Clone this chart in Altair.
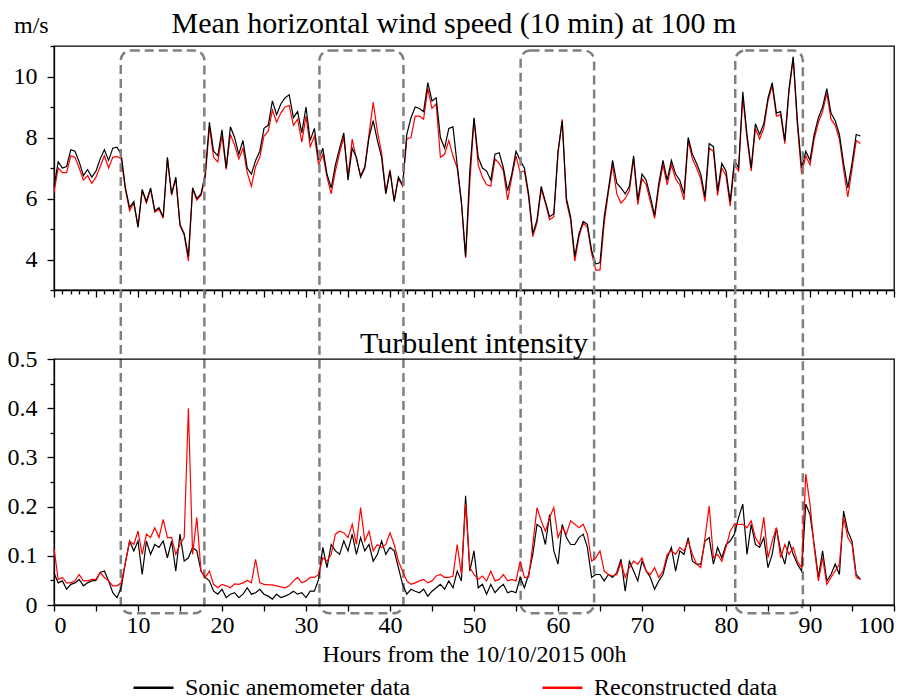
import altair as alt
import pandas as pd

SONIC = "Sonic anemometer data"
RECON = "Reconstructed data"
FONT = "Liberation Serif"

TITLE_TOP = "Mean horizontal wind speed (10 min) at 100 m"
TITLE_BOTTOM = "Turbulent intensity"
UNIT_TOP = "m/s"
X_TITLE = "Hours from the 10/10/2015 00h"

# time grid: every half hour from 0 h to 96 h
hours = [i / 2 for i in range(193)]

# Mean horizontal wind speed (m/s)
speed_sonic = [
    6.4, 7.2, 7.0, 7.05, 7.6, 7.55, 7.2, 6.75, 6.95, 6.7,
    6.9, 7.3, 7.6, 7.25, 7.65, 7.68, 7.45, 6.35, 5.7, 5.9,
    5.05, 6.3, 5.9, 6.35, 5.6, 5.7, 5.4, 7.35, 6.15, 6.7,
    5.15, 4.85, 4.1, 6.35, 6.0, 6.15, 6.8, 8.5, 7.55, 7.4,
    8.25, 7.0, 8.35, 8.0, 7.45, 7.9, 7.0, 6.8, 7.25, 7.55,
    8.3, 8.4, 9.2, 8.75, 9.1, 9.3, 9.4, 8.65, 8.85, 8.15,
    9.0, 7.9, 8.3, 7.25, 7.65, 6.8, 6.35, 7.1, 7.65, 8.15,
    6.6, 7.65, 7.35, 6.7, 7.0, 8.0, 8.55, 7.9, 7.35, 6.15,
    6.9, 5.9, 6.7, 6.45, 8.1, 8.65, 9.0, 8.95, 8.85, 9.8,
    9.2, 9.3, 8.0, 7.65, 8.3, 8.35, 7.1, 5.9, 4.1, 6.9,
    8.65, 7.35, 7.0, 6.9, 6.6, 7.45, 7.5, 7.0, 6.25, 6.8,
    7.55, 7.25, 7.0, 6.15, 4.85, 5.3, 6.4, 5.9, 5.4, 5.5,
    7.55, 8.55, 6.0, 5.4, 4.1, 4.85, 5.25, 5.15, 4.3, 3.85,
    3.9, 5.4, 6.3, 7.25, 6.5, 6.35, 6.15, 6.4, 7.4, 5.95,
    6.8, 6.6, 6.05, 5.45, 6.5, 7.25, 6.6, 7.25, 6.8, 6.6,
    6.15, 8.0, 7.45, 7.15, 6.8, 6.05, 7.8, 7.7, 6.25, 7.15,
    6.9, 5.9, 7.25, 7.0, 9.5, 8.1, 7.0, 8.45, 8.1, 8.45,
    9.3, 9.8, 8.8, 8.85, 7.9, 9.6, 10.65, 8.55, 7.0, 7.55,
    7.25, 8.1, 8.65, 9.0, 9.6, 8.8, 8.55, 8.1, 7.15, 6.35,
    7.15, 8.1, 8.05,
]
speed_recon = [
    6.2, 7.0, 6.85, 6.85, 7.4, 7.35, 7.0, 6.6, 6.75, 6.5,
    6.7, 7.05, 7.4, 7.0, 7.35, 7.38, 7.3, 6.3, 5.6, 5.85,
    5.1, 6.25, 5.85, 6.3, 5.55, 5.65, 5.35, 7.3, 6.1, 6.65,
    5.1, 4.8, 3.95, 6.3, 5.95, 6.1, 6.65, 8.35, 7.35, 7.2,
    8.05, 6.95, 8.1, 7.75, 7.3, 7.65, 6.85, 6.4, 7.05, 7.35,
    8.05, 8.2, 8.9, 8.5, 8.8, 9.0, 9.05, 8.4, 8.6, 7.85,
    8.7, 7.7, 8.05, 7.1, 7.45, 6.7, 6.15, 6.9, 7.5, 8.0,
    6.7, 7.95, 7.3, 6.75, 7.05, 8.1, 9.15, 8.2, 7.5, 6.2,
    6.95, 5.95, 6.65, 6.4, 7.95, 8.0, 8.7, 8.7, 8.6, 9.6,
    8.95, 9.1, 7.35, 7.45, 7.9, 7.4, 7.0, 5.85, 4.05, 6.5,
    8.6, 7.1, 6.7, 6.45, 6.4, 7.3, 7.15, 6.9, 5.95, 6.7,
    7.4, 6.85, 6.9, 6.05, 4.75, 5.2, 6.3, 5.85, 5.3, 5.4,
    7.45, 8.6, 5.9, 5.3, 3.95, 4.75, 5.2, 5.05, 4.2, 3.65,
    3.65, 5.2, 6.2, 7.1, 6.15, 5.85, 6.0, 6.25, 7.3, 5.8,
    6.65, 6.45, 5.9, 5.35, 6.35, 7.1, 6.45, 7.1, 6.65, 6.45,
    5.95, 7.9, 7.3, 7.0, 6.65, 5.9, 7.65, 7.55, 6.1, 7.0,
    6.75, 5.75, 7.1, 6.9, 9.35, 7.95, 6.9, 8.3, 7.95, 8.3,
    9.2, 9.7, 8.7, 8.75, 7.8, 9.5, 10.6, 8.4, 6.8, 7.4,
    7.1, 7.95, 8.5, 8.85, 9.45, 8.6, 8.4, 7.95, 6.95, 6.05,
    6.95, 7.9, 7.8,
]

# Turbulent intensity
ti_sonic = [
    0.065, 0.045, 0.049, 0.032, 0.042, 0.045, 0.052, 0.039, 0.045, 0.049,
    0.05, 0.066, 0.069, 0.049, 0.025, 0.015, 0.035, 0.086, 0.13, 0.11,
    0.13, 0.062, 0.13, 0.103, 0.123, 0.117, 0.13, 0.096, 0.13, 0.069,
    0.144, 0.089, 0.096, 0.117, 0.11, 0.069, 0.056, 0.049, 0.028, 0.022,
    0.032, 0.015, 0.022, 0.025, 0.015, 0.022, 0.035, 0.022, 0.025, 0.032,
    0.022, 0.018, 0.012, 0.022, 0.015, 0.018, 0.022, 0.028, 0.022, 0.025,
    0.015, 0.028, 0.028, 0.052, 0.117, 0.076, 0.123, 0.11, 0.103, 0.13,
    0.11, 0.144, 0.103, 0.137, 0.11, 0.123, 0.089, 0.103, 0.13, 0.103,
    0.117, 0.11, 0.076, 0.042, 0.022, 0.032, 0.028, 0.025, 0.032, 0.018,
    0.028, 0.035, 0.042, 0.032, 0.049, 0.035, 0.069, 0.049, 0.222, 0.069,
    0.11, 0.035, 0.042, 0.022, 0.042, 0.025, 0.035, 0.042, 0.025, 0.028,
    0.025, 0.056, 0.035, 0.062, 0.103, 0.164, 0.157, 0.123, 0.184, 0.11,
    0.083, 0.164, 0.137, 0.123, 0.123, 0.137, 0.144, 0.117, 0.056, 0.062,
    0.062, 0.049, 0.062, 0.056, 0.066, 0.093, 0.028, 0.089, 0.069, 0.049,
    0.089, 0.069, 0.056, 0.032, 0.049, 0.062, 0.096, 0.117, 0.069, 0.11,
    0.103, 0.137, 0.089, 0.083, 0.083, 0.13, 0.137, 0.083, 0.117, 0.096,
    0.123, 0.13, 0.144, 0.178, 0.205, 0.103, 0.164, 0.123, 0.117, 0.137,
    0.076, 0.103, 0.157, 0.11, 0.083, 0.13, 0.103, 0.083, 0.069, 0.205,
    0.184, 0.123, 0.056, 0.11, 0.049, 0.062, 0.083, 0.062, 0.191, 0.15,
    0.13, 0.062, 0.052,
]
ti_recon = [
    0.115, 0.052, 0.056, 0.045, 0.045, 0.049, 0.062, 0.049, 0.049, 0.052,
    0.052, 0.066, 0.056, 0.049, 0.039, 0.039, 0.045, 0.086, 0.13, 0.123,
    0.15, 0.103, 0.144, 0.137, 0.157, 0.137, 0.174, 0.137, 0.137, 0.103,
    0.123, 0.137, 0.40, 0.103, 0.178, 0.069, 0.056, 0.069, 0.042, 0.035,
    0.042, 0.039, 0.035, 0.043, 0.042, 0.045, 0.05, 0.045, 0.093, 0.045,
    0.042, 0.041, 0.041, 0.039, 0.037, 0.035, 0.039, 0.049, 0.056, 0.045,
    0.049, 0.056, 0.056, 0.062, 0.096, 0.089, 0.103, 0.144, 0.15, 0.147,
    0.137, 0.164, 0.123, 0.198, 0.13, 0.15, 0.11, 0.123, 0.117, 0.123,
    0.147, 0.123, 0.089, 0.069, 0.049, 0.042, 0.045, 0.049, 0.052, 0.045,
    0.049, 0.059, 0.062, 0.056, 0.056, 0.059, 0.123, 0.062, 0.205, 0.076,
    0.062, 0.052, 0.059, 0.049, 0.069, 0.049, 0.052, 0.062, 0.049, 0.052,
    0.049, 0.089, 0.056, 0.056, 0.123, 0.198, 0.171, 0.15, 0.178, 0.198,
    0.137, 0.157, 0.144, 0.171, 0.164, 0.157, 0.164, 0.144, 0.089, 0.096,
    0.11, 0.069, 0.062, 0.059, 0.062, 0.086, 0.056, 0.076, 0.089, 0.083,
    0.096, 0.069, 0.062, 0.076, 0.056, 0.069, 0.103, 0.11, 0.103, 0.117,
    0.11, 0.13, 0.103, 0.083, 0.076, 0.137, 0.201, 0.096, 0.103, 0.089,
    0.117, 0.15, 0.164, 0.164, 0.164, 0.157, 0.171, 0.137, 0.123, 0.178,
    0.096, 0.13, 0.157, 0.096, 0.123, 0.103, 0.117, 0.089, 0.076, 0.266,
    0.205, 0.117, 0.049, 0.096, 0.042, 0.056, 0.069, 0.083, 0.178, 0.137,
    0.123, 0.056, 0.052,
]

# highlighted periods (hours) drawn as dashed rounded boxes over both panels
box_start = [7.95, 31.6, 55.55, 81.1]
box_end = [17.9, 41.6, 64.3, 89.15]
box_top = 10.85      # in wind-speed units (top panel scale)
box_bottom = -7.6    # extends down through the lower panel

for arr in (speed_sonic, speed_recon, ti_sonic, ti_recon):
    assert len(arr) == len(hours), len(arr)

speed_df = pd.DataFrame({
    "hour": hours + hours,
    "value": speed_sonic + speed_recon,
    "series": [SONIC] * len(hours) + [RECON] * len(hours),
})
ti_df = pd.DataFrame({
    "hour": hours + hours,
    "value": ti_sonic + ti_recon,
    "series": [SONIC] * len(hours) + [RECON] * len(hours),
})
box_df = pd.DataFrame({
    "hour": box_start,
    "end": box_end,
    "value": [box_top] * len(box_start),
    "bottom": [box_bottom] * len(box_start),
})

color_scale = alt.Scale(domain=[SONIC, RECON], range=["#000000", "#ff0000"])
legend = alt.Legend(
    orient="none", legendX=78, legendY=620, direction="horizontal", title=None,
    symbolType="stroke", symbolSize=1600, symbolStrokeWidth=2.5,
    labelFont=FONT, labelFontSize=24, labelColor="black", labelOffset=10,
    labelLimit=400, columnPadding=126,
)
color = alt.Color("series:N", scale=color_scale, legend=legend)

# ---------- top panel ----------
x_top = alt.X(
    "hour:Q", scale=alt.Scale(domain=[0, 100], nice=False),
    axis=alt.Axis(values=list(range(0, 101)), labels=False, title=None,
                  tickSize={"condition": {"test": "datum.value % 5 === 0", "value": 7}, "value": 4}),
)
y_top = alt.Y(
    "value:Q", scale=alt.Scale(domain=[3, 11], nice=False, zero=False),
    axis=alt.Axis(values=list(range(3, 12)), title=None,
                  labelExpr="datum.value % 2 === 0 ? datum.label : ''", labelPadding=10,
                  tickSize={"condition": {"test": "datum.value % 2 === 0", "value": 7}, "value": 4}),
)


def speed_line(s):
    return alt.Chart(speed_df).transform_filter(alt.datum.series == s).mark_line(
        strokeWidth=1.2).encode(x=x_top, y=y_top, color=color)


boxes = alt.Chart(box_df).mark_rect(
    filled=False, stroke="#808080", strokeWidth=2.5, strokeDash=[9, 5],
    cornerRadius=10, clip=False,
).encode(x=x_top, x2="end:Q", y=y_top, y2="bottom:Q")

top_title = alt.Chart(pd.DataFrame({"t": [TITLE_TOP]})).mark_text(
    font=FONT, fontSize=30, align="center", baseline="alphabetic", color="black",
).encode(text="t:N", x=alt.value(400), y=alt.value(-13))

unit_label = alt.Chart(pd.DataFrame({"t": [UNIT_TOP]})).mark_text(
    font=FONT, fontSize=24, align="left", baseline="alphabetic", color="black",
).encode(text="t:N", x=alt.value(-40), y=alt.value(-13))

top = alt.layer(speed_line(RECON), speed_line(SONIC), boxes, top_title, unit_label).properties(
    width=840, height=244,
)

# ---------- bottom panel ----------
ti_ticks = [round(k * 0.05, 2) for k in range(11)]
x_bot = alt.X(
    "hour:Q", scale=alt.Scale(domain=[0, 100], nice=False),
    axis=alt.Axis(values=list(range(0, 101, 5)), title=X_TITLE,
                  tickSize=6, labelPadding=2, titlePadding=5),
)
y_bot = alt.Y(
    "value:Q", scale=alt.Scale(domain=[0, 0.5], nice=False),
    axis=alt.Axis(values=ti_ticks, title=None, format="~g", labelPadding=10,
                  labelExpr="abs(datum.value*10 - round(datum.value*10)) < 1e-6 ? datum.label : ''",
                  tickSize={"condition": {"test": "abs(datum.value*10 - round(datum.value*10)) < 1e-6",
                                          "value": 7}, "value": 4}),
)


def ti_line(s):
    return alt.Chart(ti_df).transform_filter(alt.datum.series == s).mark_line(
        strokeWidth=1.2).encode(x=x_bot, y=y_bot, color=color)


bottom_title = alt.Chart(pd.DataFrame({"t": [TITLE_BOTTOM]})).mark_text(
    font=FONT, fontSize=30, align="center", baseline="alphabetic", color="black",
).encode(text="t:N", x=alt.value(420), y=alt.value(-6))

bottom = alt.layer(ti_line(SONIC), ti_line(RECON), bottom_title).properties(
    width=840, height=246,
)

chart = alt.vconcat(top, bottom, spacing=69, bounds="flush").properties(
    padding={"left": 6, "top": 8, "right": 5, "bottom": 5},
).configure_view(
    stroke="black", strokeWidth=1.3,
).configure_axis(
    labelFont=FONT, labelFontSize=24, labelColor="black",
    titleFont=FONT, titleFontSize=24, titleFontWeight="normal", titleColor="black",
    tickColor="black", tickWidth=1.3, domainColor="black", domainWidth=1.3, grid=False,
)

chart.save("out.html", embed_options={"renderer": "svg", "actions": False})
